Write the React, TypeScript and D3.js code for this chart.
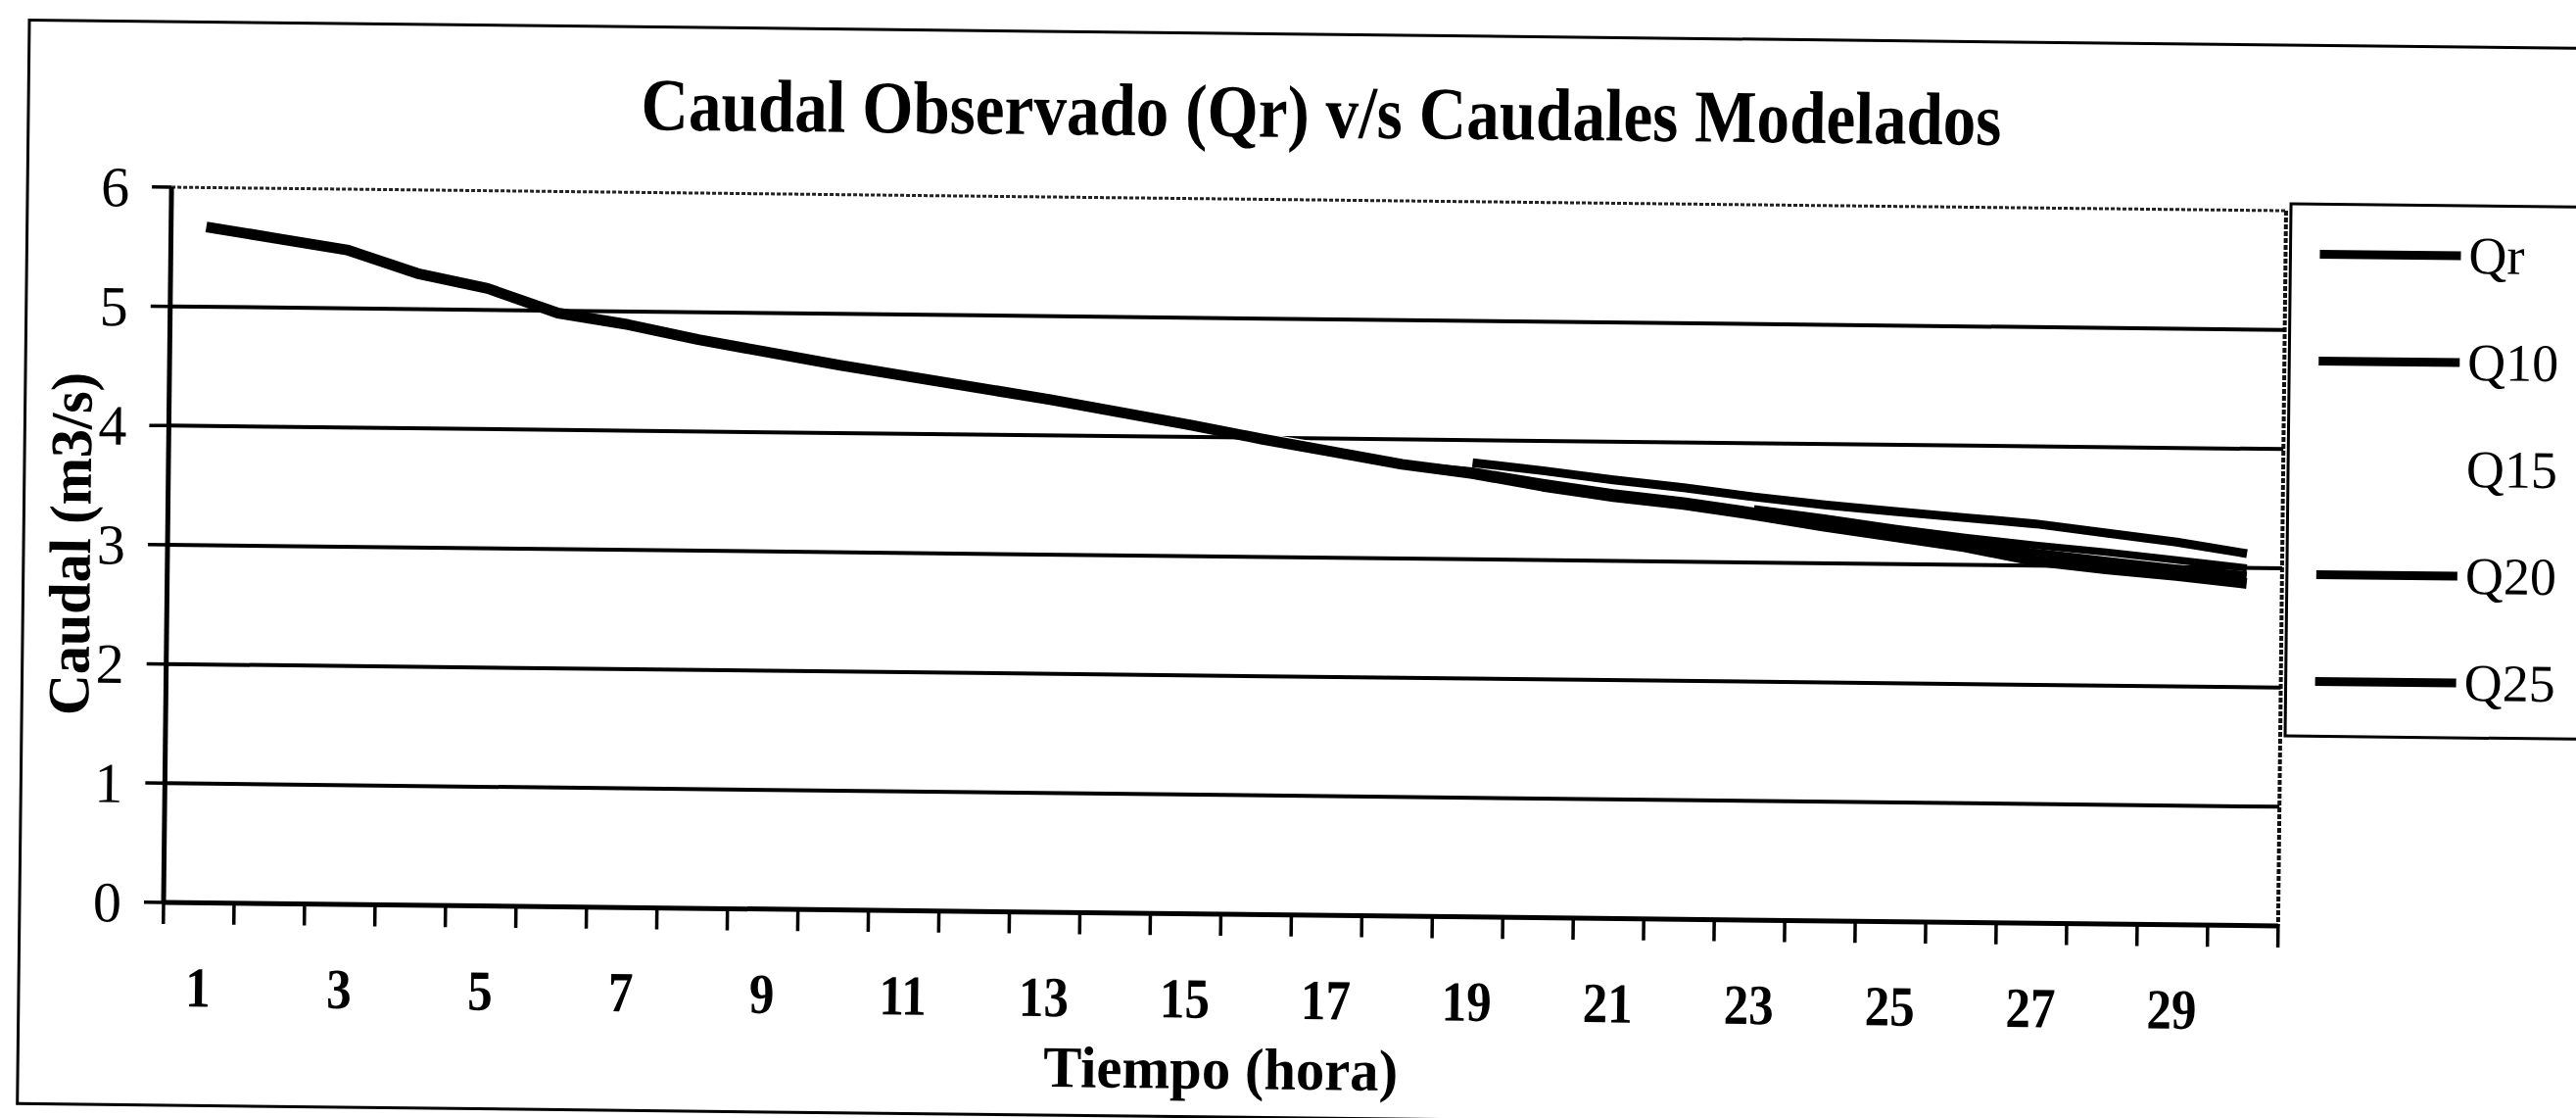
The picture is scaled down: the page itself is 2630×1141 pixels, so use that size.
import React from 'react';
import * as d3 from 'd3';

// ---- data ----
const hours = [1, 2, 3, 4, 5, 6, 7, 8, 9, 10, 11, 12, 13, 14, 15, 16, 17, 18, 19, 20, 21, 22, 23, 24, 25, 26, 27, 28, 29, 30];
const xTickLabels = [1, 3, 5, 7, 9, 11, 13, 15, 17, 19, 21, 23, 25, 27, 29];
const yTicks = [0, 1, 2, 3, 4, 5, 6];

const qr = [5.67, 5.58, 5.49, 5.30, 5.18, 4.98, 4.89, 4.77, 4.67, 4.57, 4.48, 4.39, 4.30, 4.20, 4.10, 3.99, 3.89, 3.79, 3.72, 3.62, 3.54, 3.48, 3.40, 3.31, 3.23, 3.15, 3.04, 2.98, 2.93, 2.87];
const q10 = [null, null, null, null, null, null, null, null, null, 4.57, 4.48, 4.39, 4.30, 4.20, 4.10, 3.99, 3.89, 3.79, 3.74, 3.65, 3.57, 3.51, 3.43, 3.35, 3.27, 3.20, 3.11, 3.05, 2.99, 2.94];
const q15 = [null, null, null, null, null, null, null, null, null, null, null, null, null, null, 4.10, 4.01, 3.92, 3.84, 3.77, 3.70, 3.63, 3.57, 3.50, 3.44, 3.38, 3.32, 3.26, 3.20, 3.13, 3.06];
const q20 = [null, null, null, null, null, null, null, null, null, null, null, null, null, null, null, null, null, null, 3.81, 3.75, 3.68, 3.62, 3.55, 3.49, 3.44, 3.395, 3.35, 3.28, 3.21, 3.12];
const q25 = [null, null, null, null, null, null, null, null, null, null, null, null, null, null, null, null, null, null, null, null, null, null, 3.45, 3.38, 3.30, 3.23, 3.17, 3.12, 3.06, 3.00];

const seriesNames = ['Qr', 'Q10', 'Q15', 'Q20', 'Q25'];
const seriesValues = [qr, q10, q15, q20, q25];
const seriesColors = ['#000', '#000', '#fff', '#000', '#000'];
const seriesWidths = [11, 7.5, 7.5, 9, 7.5];
const drawOrder = [2, 0, 1, 3, 4];

const title = 'Caudal Observado (Qr) v/s Caudales Modelados';
const xTitle = 'Tiempo (hora)';
const yTitle = 'Caudal (m3/s)';

const W = 2630;
const H = 1141;
const plot = { left: 167, right: 2326, top: 191, bottom: 921 };
const FONT = '"Liberation Serif", "Times New Roman", serif';

export default function App() {
  const x = d3.scaleBand<number>().domain(hours).range([plot.left, plot.right]).padding(0);
  const xc = (h: number) => (x(h) as number) + x.bandwidth() / 2;
  const y = d3.scaleLinear().domain([0, 6]).range([plot.bottom, plot.top]);

  const line = d3
    .line<number | null>()
    .defined((d) => d != null)
    .x((_, i) => xc(hours[i]))
    .y((d) => y(d as number));

  const tickXs = [...hours.map((h) => x(h) as number), plot.right];
  const legendYs = [235, 344, 453, 562, 671];

  return (
    <svg
      width={W}
      height={H}
      style={{ position: 'absolute', left: 0, top: 0, display: 'block', background: '#fff' }}
    >
      <rect x={0} y={0} width={W} height={H} fill="#fff" />
      <g transform="rotate(0.637 167 921)">
        {/* outer chart border */}
        <rect x={20} y={22} width={2700} height={1106} fill="none" stroke="#000" strokeWidth={3} />

        {/* title */}
        <text
          x={1340}
          y={127}
          textAnchor="middle"
          fontFamily={FONT}
          fontWeight="bold"
          fontSize={76}
          textLength={1389}
          lengthAdjust="spacingAndGlyphs"
        >
          {title}
        </text>

        {/* plot area border (top & right) */}
        <line x1={plot.left} x2={plot.right} y1={plot.top} y2={plot.top} stroke="#222" strokeWidth={3} strokeDasharray="4 2" />
        <line x1={plot.right} x2={plot.right} y1={plot.top} y2={plot.bottom} stroke="#111" strokeWidth={4} strokeDasharray="5 2" />

        {/* gridlines */}
        {yTicks
          .filter((v) => v > 0 && v < 6)
          .map((v) => (
            <line key={'g' + v} x1={plot.left} x2={plot.right} y1={y(v)} y2={y(v)} stroke="#000" strokeWidth={4} />
          ))}

        {/* y axis */}
        <line x1={plot.left} x2={plot.left} y1={plot.top} y2={plot.bottom} stroke="#000" strokeWidth={5} />
        {yTicks.map((v) => (
          <g key={'yt' + v}>
            <line x1={plot.left - 20} x2={plot.left} y1={y(v)} y2={y(v)} stroke="#000" strokeWidth={3.5} />
            <text x={124} y={y(v) + 20} textAnchor="end" fontFamily={FONT} fontSize={58}>
              {v}
            </text>
          </g>
        ))}

        {/* x axis */}
        <line x1={plot.left} x2={plot.right} y1={plot.bottom} y2={plot.bottom} stroke="#000" strokeWidth={5} />
        {tickXs.map((tx, i) => (
          <line key={'xt' + i} x1={tx} x2={tx} y1={plot.bottom} y2={plot.bottom + 22} stroke="#000" strokeWidth={3.5} />
        ))}
        {xTickLabels.map((h) => (
          <text
            key={'xl' + h}
            transform={`translate(${xc(h)},1027) scale(0.88,1)`}
            textAnchor="middle"
            fontFamily={FONT}
            fontWeight="bold"
            fontSize={58}
          >
            {h}
          </text>
        ))}

        {/* axis titles */}
        <text
          x={1248}
          y={1099}
          textAnchor="middle"
          fontFamily={FONT}
          fontWeight="bold"
          fontSize={60}
          textLength={362}
          lengthAdjust="spacingAndGlyphs"
        >
          {xTitle}
        </text>
        <text
          transform="translate(88,556) rotate(-90)"
          textAnchor="middle"
          fontFamily={FONT}
          fontWeight="bold"
          fontSize={60}
          textLength={350}
          lengthAdjust="spacingAndGlyphs"
        >
          {yTitle}
        </text>

        {/* series */}
        {drawOrder.map((si) => (
          <path
            key={'s' + si}
            d={line(seriesValues[si]) || ''}
            fill="none"
            stroke={seriesColors[si]}
            strokeWidth={seriesWidths[si]}
            strokeLinejoin="round"
          />
        ))}

        {/* legend */}
        <rect x={2331} y={184} width={400} height={543} fill="#fff" stroke="#000" strokeWidth={3} />
        {seriesNames.map((name, i) => (
          <g key={'lg' + name}>
            <line x1={2361} x2={2505} y1={legendYs[i]} y2={legendYs[i]} stroke={seriesColors[i]} strokeWidth={9} />
            <text x={2513} y={legendYs[i] + 18} fontFamily={FONT} fontSize={54}>
              {name}
            </text>
          </g>
        ))}
      </g>
    </svg>
  );
}
